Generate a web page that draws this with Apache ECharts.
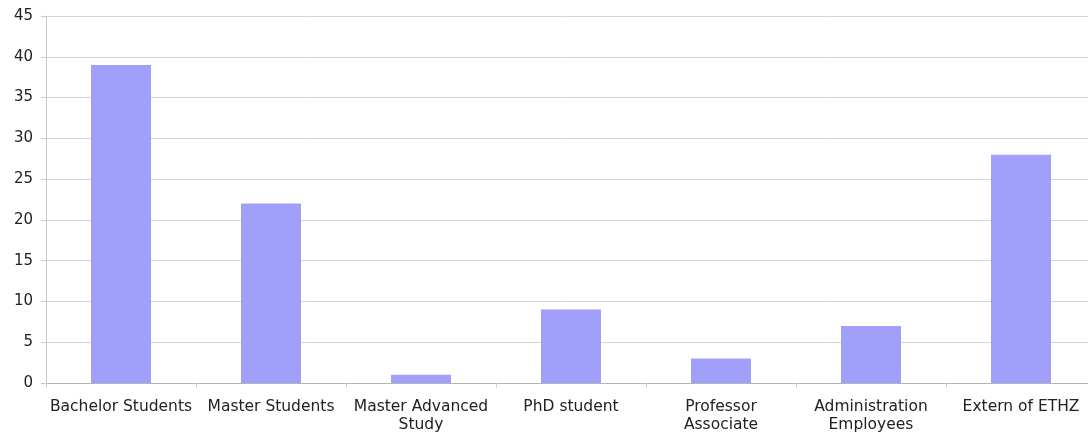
<!DOCTYPE html>
<html>
<head>
<meta charset="utf-8">
<script src="https://cdn.jsdelivr.net/npm/echarts@6/dist/echarts.min.js"></script>
<style>
  html, body { margin: 0; padding: 0; background: #fff; }
  #chart { width: 1088px; height: 436px; }
</style>
</head>
<body>
<div id="chart"></div>
<script>
// Participants by group
const categories = [
  'Bachelor Students',
  'Master Students',
  'Master Advanced\nStudy',
  'PhD student',
  'Professor\nAssociate',
  'Administration\nEmployees',
  'Extern of ETHZ'
];
const counts = [39, 22, 1, 9, 3, 7, 28];
const yTicks = { min: 0, max: 45, interval: 5 };

const labelFont = 'DejaVu Sans, Verdana, sans-serif';

const chart = echarts.init(document.getElementById('chart'), null, { renderer: 'canvas' });
chart.setOption({
  animation: false,
  backgroundColor: '#ffffff',
  // the last band runs slightly past the right edge of the canvas
  grid: { left: 46, top: 16, width: 1050, height: 367, containLabel: false, outerBoundsMode: 'none' },
  xAxis: {
    type: 'category',
    data: categories,
    axisLine: { show: true, lineStyle: { color: '#b4b4b4', width: 1 } },
    axisTick: { show: true, alignWithLabel: false, length: 5, lineStyle: { color: '#d0d0d0' } },
    axisLabel: {
      interval: 0,
      margin: 15,
      color: '#222222',
      fontFamily: labelFont,
      fontSize: 15.5,
      lineHeight: 18
    }
  },
  yAxis: {
    type: 'value',
    min: yTicks.min,
    max: yTicks.max,
    interval: yTicks.interval,
    axisLine: { show: true, lineStyle: { color: '#c8c8c8', width: 1 } },
    axisTick: { show: true, length: 5, lineStyle: { color: '#c8c8c8' } },
    splitLine: { show: true, lineStyle: { color: '#d4d4d4', width: 1 } },
    axisLabel: {
      margin: 13,
      color: '#222222',
      fontFamily: labelFont,
      fontSize: 15
    }
  },
  series: [{
    type: 'bar',
    data: counts,
    barWidth: 60,
    itemStyle: { color: '#a0a0fa' }
  }]
});
</script>
</body>
</html>
